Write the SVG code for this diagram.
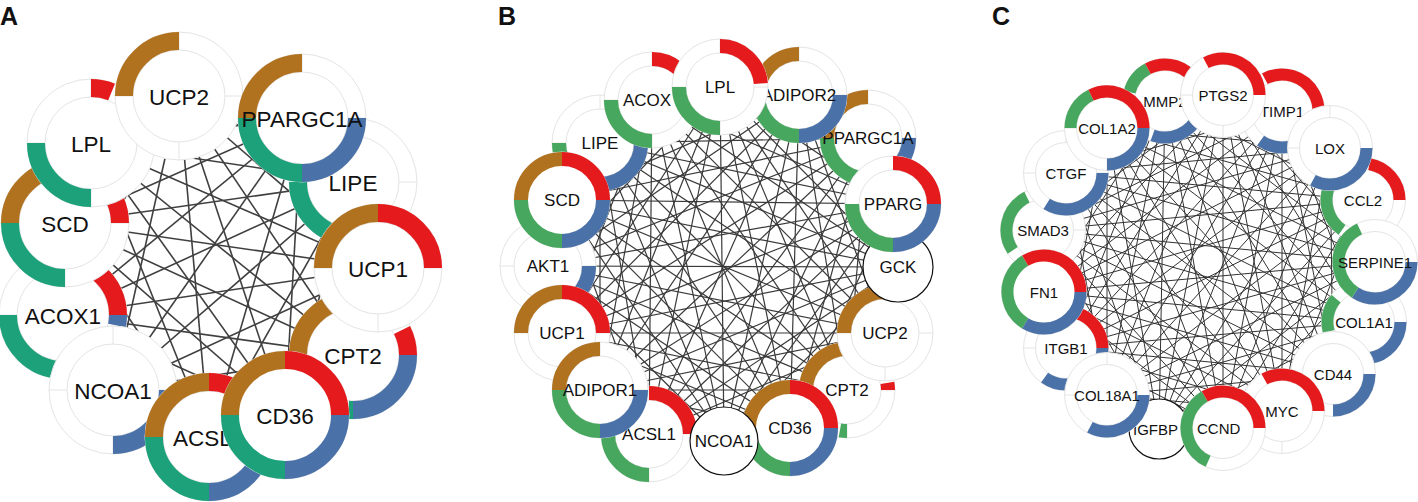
<svg xmlns="http://www.w3.org/2000/svg" width="1418" height="502" viewBox="0 0 1418 502">
<style>
.bg{fill:#fff}
.w{fill:#fff;stroke:#e4e4e4;stroke-width:1}
.i{fill:none;stroke:#e4e4e4;stroke-width:1}
.pl{fill:#fff;stroke:#111;stroke-width:1.2}
.a{fill:none;stroke-width:18}
.b{fill:none;stroke-width:14}
.c{fill:none;stroke-width:12}
.br{stroke:#B1721F}.rd{stroke:#E41A1C}.bl{stroke:#4A71A8}.ga{stroke:#1CA17A}.gn{stroke:#47A75E}
.eA path{stroke:#404040;stroke-width:1.6;fill:none}
.eB path{stroke:#3a3a3a;stroke-width:1.2;fill:none}
.eC path{stroke:#333;stroke-width:1;fill:none}
text{font-family:"Liberation Sans",Arial,sans-serif;fill:#111}
.tA{font-size:22.5px;text-anchor:middle}
.tB{font-size:17px;text-anchor:middle}
.tC{font-size:15px;text-anchor:middle}
.s{text-anchor:start}
.pn{font-size:25px;font-weight:bold}
</style>
<rect class="bg" width="1418" height="502"/>
<text class="pn" x="0" y="25">A</text>
<text class="pn" x="498" y="25">B</text>
<text class="pn" x="992" y="25">C</text>

<g id="edges-A" class="eA">
<path d="M179 96L353 182"/><path d="M179 96L378 268"/><path d="M179 96L353 355"/><path d="M179 96L285 415"/><path d="M179 96L209 437"/><path d="M179 96L113 390"/><path d="M179 96L63 315"/><path d="M179 96L65 223"/>
<path d="M302 118L378 268"/><path d="M302 118L353 355"/><path d="M302 118L285 415"/><path d="M302 118L209 437"/><path d="M302 118L113 390"/><path d="M302 118L63 315"/><path d="M302 118L65 223"/><path d="M302 118L91 143"/>
<path d="M353 182L353 355"/><path d="M353 182L285 415"/><path d="M353 182L209 437"/><path d="M353 182L113 390"/><path d="M353 182L63 315"/><path d="M353 182L65 223"/><path d="M353 182L91 143"/>
<path d="M378 268L285 415"/><path d="M378 268L209 437"/><path d="M378 268L113 390"/><path d="M378 268L63 315"/><path d="M378 268L65 223"/><path d="M378 268L91 143"/>
<path d="M353 355L209 437"/><path d="M353 355L113 390"/><path d="M353 355L63 315"/><path d="M353 355L65 223"/><path d="M353 355L91 143"/>
<path d="M285 415L113 390"/><path d="M285 415L63 315"/><path d="M285 415L65 223"/><path d="M285 415L91 143"/>
<path d="M209 437L63 315"/><path d="M209 437L65 223"/><path d="M209 437L91 143"/>
<path d="M113 390L65 223"/><path d="M113 390L91 143"/><path d="M63 315L91 143"/>
</g>

<g id="edges-B" class="eB">
<path d="M720 87L868 138"/><path d="M720 87L893 204"/><path d="M720 87L898 267"/><path d="M720 87L885 333"/><path d="M720 87L847 390"/><path d="M720 87L790 428"/><path d="M720 87L724 441"/><path d="M720 87L649 434"/><path d="M720 87L600 390"/><path d="M720 87L562 333"/><path d="M720 87L548 266"/><path d="M720 87L562 200"/><path d="M720 87L600 143"/>
<path d="M799 95L893 204"/><path d="M799 95L898 267"/><path d="M799 95L885 333"/><path d="M799 95L847 390"/><path d="M799 95L790 428"/><path d="M799 95L724 441"/><path d="M799 95L649 434"/><path d="M799 95L600 390"/><path d="M799 95L562 333"/><path d="M799 95L548 266"/><path d="M799 95L562 200"/><path d="M799 95L600 143"/><path d="M799 95L652 100"/>
<path d="M868 138L898 267"/><path d="M868 138L885 333"/><path d="M868 138L847 390"/><path d="M868 138L790 428"/><path d="M868 138L724 441"/><path d="M868 138L649 434"/><path d="M868 138L600 390"/><path d="M868 138L562 333"/><path d="M868 138L548 266"/><path d="M868 138L562 200"/><path d="M868 138L600 143"/><path d="M868 138L652 100"/>
<path d="M893 204L885 333"/><path d="M893 204L847 390"/><path d="M893 204L790 428"/><path d="M893 204L724 441"/><path d="M893 204L649 434"/><path d="M893 204L600 390"/><path d="M893 204L562 333"/><path d="M893 204L548 266"/><path d="M893 204L562 200"/><path d="M893 204L600 143"/><path d="M893 204L652 100"/>
<path d="M898 267L847 390"/><path d="M898 267L790 428"/><path d="M898 267L724 441"/><path d="M898 267L649 434"/><path d="M898 267L600 390"/><path d="M898 267L562 333"/><path d="M898 267L548 266"/><path d="M898 267L562 200"/><path d="M898 267L600 143"/><path d="M898 267L652 100"/>
<path d="M885 333L790 428"/><path d="M885 333L724 441"/><path d="M885 333L649 434"/><path d="M885 333L600 390"/><path d="M885 333L562 333"/><path d="M885 333L548 266"/><path d="M885 333L562 200"/><path d="M885 333L600 143"/><path d="M885 333L652 100"/>
<path d="M847 390L724 441"/><path d="M847 390L649 434"/><path d="M847 390L600 390"/><path d="M847 390L562 333"/><path d="M847 390L548 266"/><path d="M847 390L562 200"/><path d="M847 390L600 143"/><path d="M847 390L652 100"/>
<path d="M790 428L649 434"/><path d="M790 428L600 390"/><path d="M790 428L562 333"/><path d="M790 428L548 266"/><path d="M790 428L562 200"/><path d="M790 428L600 143"/><path d="M790 428L652 100"/>
<path d="M724 441L600 390"/><path d="M724 441L562 333"/><path d="M724 441L548 266"/><path d="M724 441L562 200"/><path d="M724 441L600 143"/><path d="M724 441L652 100"/>
<path d="M649 434L562 333"/><path d="M649 434L548 266"/><path d="M649 434L562 200"/><path d="M649 434L600 143"/><path d="M649 434L652 100"/>
<path d="M600 390L548 266"/><path d="M600 390L562 200"/><path d="M600 390L600 143"/><path d="M600 390L652 100"/>
<path d="M562 333L562 200"/><path d="M562 333L600 143"/><path d="M562 333L652 100"/>
<path d="M548 266L600 143"/><path d="M548 266L652 100"/><path d="M562 200L652 100"/>
</g>

<g id="edges-C" class="eC">
<path d="M1223 95L1330 148"/><path d="M1223 95L1363 200"/><path d="M1223 95L1375 262"/><path d="M1223 95L1364 322"/><path d="M1223 95L1333 374"/><path d="M1223 95L1282 411"/><path d="M1223 95L1223 428"/><path d="M1223 95L1159 429"/><path d="M1223 95L1107 395"/><path d="M1223 95L1066 348"/><path d="M1223 95L1044 292"/><path d="M1223 95L1043 230"/><path d="M1223 95L1066 173"/><path d="M1223 95L1107 128"/>
<path d="M1282 111L1363 200"/><path d="M1282 111L1375 262"/><path d="M1282 111L1364 322"/><path d="M1282 111L1333 374"/><path d="M1282 111L1282 411"/><path d="M1282 111L1223 428"/><path d="M1282 111L1159 429"/><path d="M1282 111L1107 395"/><path d="M1282 111L1066 348"/><path d="M1282 111L1044 292"/><path d="M1282 111L1043 230"/><path d="M1282 111L1066 173"/><path d="M1282 111L1107 128"/><path d="M1282 111L1165 101"/>
<path d="M1330 148L1375 262"/><path d="M1330 148L1364 322"/><path d="M1330 148L1333 374"/><path d="M1330 148L1282 411"/><path d="M1330 148L1223 428"/><path d="M1330 148L1159 429"/><path d="M1330 148L1107 395"/><path d="M1330 148L1066 348"/><path d="M1330 148L1044 292"/><path d="M1330 148L1043 230"/><path d="M1330 148L1066 173"/><path d="M1330 148L1107 128"/><path d="M1330 148L1165 101"/>
<path d="M1363 200L1364 322"/><path d="M1363 200L1333 374"/><path d="M1363 200L1282 411"/><path d="M1363 200L1223 428"/><path d="M1363 200L1159 429"/><path d="M1363 200L1107 395"/><path d="M1363 200L1066 348"/><path d="M1363 200L1044 292"/><path d="M1363 200L1043 230"/><path d="M1363 200L1066 173"/><path d="M1363 200L1107 128"/><path d="M1363 200L1165 101"/>
<path d="M1375 262L1333 374"/><path d="M1375 262L1282 411"/><path d="M1375 262L1223 428"/><path d="M1375 262L1159 429"/><path d="M1375 262L1107 395"/><path d="M1375 262L1066 348"/><path d="M1375 262L1044 292"/><path d="M1375 262L1043 230"/><path d="M1375 262L1066 173"/><path d="M1375 262L1107 128"/><path d="M1375 262L1165 101"/>
<path d="M1364 322L1282 411"/><path d="M1364 322L1223 428"/><path d="M1364 322L1159 429"/><path d="M1364 322L1107 395"/><path d="M1364 322L1066 348"/><path d="M1364 322L1044 292"/><path d="M1364 322L1043 230"/><path d="M1364 322L1066 173"/><path d="M1364 322L1107 128"/><path d="M1364 322L1165 101"/>
<path d="M1333 374L1223 428"/><path d="M1333 374L1159 429"/><path d="M1333 374L1107 395"/><path d="M1333 374L1066 348"/><path d="M1333 374L1044 292"/><path d="M1333 374L1043 230"/><path d="M1333 374L1066 173"/><path d="M1333 374L1107 128"/><path d="M1333 374L1165 101"/>
<path d="M1282 411L1159 429"/><path d="M1282 411L1107 395"/><path d="M1282 411L1066 348"/><path d="M1282 411L1044 292"/><path d="M1282 411L1043 230"/><path d="M1282 411L1066 173"/><path d="M1282 411L1107 128"/><path d="M1282 411L1165 101"/>
<path d="M1223 428L1107 395"/><path d="M1223 428L1066 348"/><path d="M1223 428L1044 292"/><path d="M1223 428L1043 230"/><path d="M1223 428L1066 173"/><path d="M1223 428L1107 128"/><path d="M1223 428L1165 101"/>
<path d="M1159 429L1066 348"/><path d="M1159 429L1044 292"/><path d="M1159 429L1043 230"/><path d="M1159 429L1066 173"/><path d="M1159 429L1107 128"/><path d="M1159 429L1165 101"/>
<path d="M1107 395L1044 292"/><path d="M1107 395L1043 230"/><path d="M1107 395L1066 173"/><path d="M1107 395L1107 128"/><path d="M1107 395L1165 101"/>
<path d="M1066 348L1043 230"/><path d="M1066 348L1066 173"/><path d="M1066 348L1107 128"/><path d="M1066 348L1165 101"/>
<path d="M1044 292L1066 173"/><path d="M1044 292L1107 128"/><path d="M1044 292L1165 101"/>
<path d="M1043 230L1107 128"/><path d="M1043 230L1165 101"/><path d="M1066 173L1165 101"/>
</g>

<!-- Panel A nodes -->
<g id="A-ACOX1"><circle class="w" cx="63" cy="315" r="64"/><circle class="i" cx="63" cy="315" r="46"/><path class="i" d="M63 251V269M109 315H127M63 361V379M-1 315H17"/>
<circle class="a rd" cx="63" cy="315" r="55" pathLength="360" stroke-dasharray="50 400" transform="rotate(-50 63 315)"/>
<circle class="a bl" cx="63" cy="315" r="55" pathLength="360" stroke-dasharray="11 400"/>
<circle class="a ga" cx="63" cy="315" r="55" pathLength="360" stroke-dasharray="90 400" transform="rotate(90 63 315)"/>
<text class="tA" x="63" y="324">ACOX1</text></g>
<g id="A-SCD"><circle class="w" cx="65" cy="223" r="64"/><circle class="i" cx="65" cy="223" r="46"/><path class="i" d="M65 159V177M111 223H129M65 269V287M1 223H19"/>
<circle class="a br" cx="65" cy="223" r="55" pathLength="360" stroke-dasharray="90 400" transform="rotate(180 65 223)"/>
<circle class="a rd" cx="65" cy="223" r="55" pathLength="360" stroke-dasharray="24 400" transform="rotate(-24 65 223)"/>
<circle class="a ga" cx="65" cy="223" r="55" pathLength="360" stroke-dasharray="90 400" transform="rotate(90 65 223)"/>
<text class="tA" x="65" y="232">SCD</text></g>
<g id="A-LPL"><circle class="w" cx="91" cy="143" r="64"/><circle class="i" cx="91" cy="143" r="46"/><path class="i" d="M91 79V97M137 143H155M91 189V207M27 143H45"/>
<circle class="a rd" cx="91" cy="143" r="55" pathLength="360" stroke-dasharray="22 400" transform="rotate(-90 91 143)"/>
<circle class="a ga" cx="91" cy="143" r="55" pathLength="360" stroke-dasharray="90 400" transform="rotate(90 91 143)"/>
<text class="tA" x="91" y="152">LPL</text></g>
<g id="A-UCP2"><circle class="w" cx="179" cy="96" r="64"/><circle class="i" cx="179" cy="96" r="46"/><path class="i" d="M179 32V50M225 96H243M179 142V160M115 96H133"/>
<circle class="a br" cx="179" cy="96" r="55" pathLength="360" stroke-dasharray="90 400" transform="rotate(180 179 96)"/>
<text class="tA" x="179" y="105">UCP2</text></g>
<g id="A-LIPE"><circle class="w" cx="353" cy="182" r="64"/><circle class="i" cx="353" cy="182" r="46"/><path class="i" d="M353 118V136M399 182H417M353 228V246M289 182H307"/>
<circle class="a ga" cx="353" cy="182" r="55" pathLength="360" stroke-dasharray="90 400" transform="rotate(90 353 182)"/>
<text class="tA" x="353" y="191">LIPE</text></g>
<g id="A-PPARGC1A"><circle class="w" cx="302" cy="118" r="64"/><circle class="i" cx="302" cy="118" r="46"/><path class="i" d="M302 54V72M348 118H366M302 164V182M238 118H256"/>
<circle class="a br" cx="302" cy="118" r="55" pathLength="360" stroke-dasharray="90 400" transform="rotate(180 302 118)"/>
<circle class="a bl" cx="302" cy="118" r="55" pathLength="360" stroke-dasharray="90 400"/>
<circle class="a ga" cx="302" cy="118" r="55" pathLength="360" stroke-dasharray="90 400" transform="rotate(90 302 118)"/>
<text class="tA" x="302" y="127">PPARGC1A</text></g>
<g id="A-CPT2"><circle class="w" cx="353" cy="355" r="64"/><circle class="i" cx="353" cy="355" r="46"/><path class="i" d="M353 291V309M399 355H417M353 401V419M289 355H307"/>
<circle class="a br" cx="353" cy="355" r="55" pathLength="360" stroke-dasharray="90 400" transform="rotate(180 353 355)"/>
<circle class="a rd" cx="353" cy="355" r="55" pathLength="360" stroke-dasharray="27 400" transform="rotate(-27 353 355)"/>
<circle class="a bl" cx="353" cy="355" r="55" pathLength="360" stroke-dasharray="90 400"/>
<circle class="a ga" cx="353" cy="355" r="55" pathLength="360" stroke-dasharray="5 400" transform="rotate(90 353 355)"/>
<text class="tA" x="353" y="364">CPT2</text></g>
<g id="A-UCP1"><circle class="w" cx="378" cy="268" r="64"/><circle class="i" cx="378" cy="268" r="46"/><path class="i" d="M378 204V222M424 268H442M378 314V332M314 268H332"/>
<circle class="a br" cx="378" cy="268" r="55" pathLength="360" stroke-dasharray="90 400" transform="rotate(180 378 268)"/>
<circle class="a rd" cx="378" cy="268" r="55" pathLength="360" stroke-dasharray="90 400" transform="rotate(-90 378 268)"/>
<text class="tA" x="378" y="277">UCP1</text></g>
<g id="A-NCOA1"><circle class="w" cx="113" cy="390" r="64"/><circle class="i" cx="113" cy="390" r="46"/><path class="i" d="M113 326V344M159 390H177M113 436V454M49 390H67"/>
<circle class="a bl" cx="113" cy="390" r="55" pathLength="360" stroke-dasharray="90 400"/>
<text class="tA" x="113" y="399">NCOA1</text></g>
<g id="A-ACSL1"><circle class="w" cx="209" cy="437" r="64"/><circle class="i" cx="209" cy="437" r="46"/>
<circle class="a br" cx="209" cy="437" r="55" pathLength="360" stroke-dasharray="90 400" transform="rotate(180 209 437)"/>
<circle class="a rd" cx="209" cy="437" r="55" pathLength="360" stroke-dasharray="90 400" transform="rotate(-90 209 437)"/>
<circle class="a bl" cx="209" cy="437" r="55" pathLength="360" stroke-dasharray="90 400"/>
<circle class="a ga" cx="209" cy="437" r="55" pathLength="360" stroke-dasharray="90 400" transform="rotate(90 209 437)"/>
<text class="tA s" x="173" y="446">ACSL</text></g>
<g id="A-CD36"><circle class="w" cx="285" cy="415" r="64"/>
<circle class="a br" cx="285" cy="415" r="55" pathLength="360" stroke-dasharray="90 400" transform="rotate(180 285 415)"/>
<circle class="a rd" cx="285" cy="415" r="55" pathLength="360" stroke-dasharray="90 400" transform="rotate(-90 285 415)"/>
<circle class="a bl" cx="285" cy="415" r="55" pathLength="360" stroke-dasharray="90 400"/>
<circle class="a ga" cx="285" cy="415" r="55" pathLength="360" stroke-dasharray="90 400" transform="rotate(90 285 415)"/>
<text class="tA" x="285" y="424">CD36</text></g>

<!-- Panel B nodes -->
<g id="B-LIPE"><circle class="w" cx="600" cy="143" r="48"/><circle class="i" cx="600" cy="143" r="34"/><path class="i" d="M600 95V109M634 143H648M600 177V191M552 143H566"/>
<circle class="b bl" cx="600" cy="143" r="41" pathLength="360" stroke-dasharray="90 400"/>
<circle class="b gn" cx="600" cy="143" r="41" pathLength="360" stroke-dasharray="90 400" transform="rotate(90 600 143)"/>
<text class="tB" x="600" y="149">LIPE</text></g>
<g id="B-AKT1"><circle class="w" cx="548" cy="266" r="48"/><circle class="i" cx="548" cy="266" r="34"/><path class="i" d="M548 218V232M582 266H596M548 300V314M500 266H514"/>
<circle class="b bl" cx="548" cy="266" r="41" pathLength="360" stroke-dasharray="90 400"/>
<text class="tB" x="548" y="272">AKT1</text></g>
<g id="B-ACOX"><circle class="w" cx="652" cy="100" r="48"/><circle class="i" cx="652" cy="100" r="34"/><path class="i" d="M652 52V66M686 100H700M652 134V148M604 100H618"/>
<circle class="b rd" cx="652" cy="100" r="41" pathLength="360" stroke-dasharray="40 400" transform="rotate(-90 652 100)"/>
<circle class="b gn" cx="652" cy="100" r="41" pathLength="360" stroke-dasharray="90 400" transform="rotate(90 652 100)"/>
<text class="tB s" x="623" y="106">ACOX</text></g>
<g id="B-SCD"><circle class="w" cx="562" cy="200" r="48"/>
<circle class="b br" cx="562" cy="200" r="41" pathLength="360" stroke-dasharray="90 400" transform="rotate(180 562 200)"/>
<circle class="b rd" cx="562" cy="200" r="41" pathLength="360" stroke-dasharray="90 400" transform="rotate(-90 562 200)"/>
<circle class="b bl" cx="562" cy="200" r="41" pathLength="360" stroke-dasharray="90 400"/>
<circle class="b gn" cx="562" cy="200" r="41" pathLength="360" stroke-dasharray="90 400" transform="rotate(90 562 200)"/>
<text class="tB" x="562" y="206">SCD</text></g>
<g id="B-UCP1"><circle class="w" cx="562" cy="333" r="48"/><circle class="i" cx="562" cy="333" r="34"/><path class="i" d="M562 285V299M596 333H610M562 367V381M514 333H528"/>
<circle class="b br" cx="562" cy="333" r="41" pathLength="360" stroke-dasharray="90 400" transform="rotate(180 562 333)"/>
<circle class="b rd" cx="562" cy="333" r="41" pathLength="360" stroke-dasharray="90 400" transform="rotate(-90 562 333)"/>
<text class="tB" x="562" y="339">UCP1</text></g>
<g id="B-ACSL1"><circle class="w" cx="649" cy="434" r="48"/><circle class="i" cx="649" cy="434" r="34"/><path class="i" d="M649 386V400M683 434H697M649 468V482M601 434H615"/>
<circle class="b rd" cx="649" cy="434" r="41" pathLength="360" stroke-dasharray="90 400" transform="rotate(-90 649 434)"/>
<circle class="b gn" cx="649" cy="434" r="41" pathLength="360" stroke-dasharray="90 400" transform="rotate(90 649 434)"/>
<text class="tB" x="649" y="440">ACSL1</text></g>
<g id="B-ADIPOR1"><circle class="w" cx="600" cy="390" r="48"/><circle class="i" cx="600" cy="390" r="34"/><path class="i" d="M600 342V356M634 390H648M600 424V438M552 390H566"/>
<circle class="b br" cx="600" cy="390" r="41" pathLength="360" stroke-dasharray="90 400" transform="rotate(180 600 390)"/>
<circle class="b bl" cx="600" cy="390" r="41" pathLength="360" stroke-dasharray="90 400"/>
<circle class="b gn" cx="600" cy="390" r="41" pathLength="360" stroke-dasharray="90 400" transform="rotate(90 600 390)"/>
<text class="tB" x="600" y="396">ADIPOR1</text></g>
<g id="B-CPT2"><circle class="w" cx="847" cy="390" r="48"/><circle class="i" cx="847" cy="390" r="34"/><path class="i" d="M847 342V356M881 390H895M847 424V438M799 390H813"/>
<circle class="b br" cx="847" cy="390" r="41" pathLength="360" stroke-dasharray="90 400" transform="rotate(180 847 390)"/>
<circle class="b rd" cx="847" cy="390" r="41" pathLength="360" stroke-dasharray="10 400" transform="rotate(-10 847 390)"/>
<circle class="b gn" cx="847" cy="390" r="41" pathLength="360" stroke-dasharray="10 400" transform="rotate(90 847 390)"/>
<text class="tB" x="847" y="396">CPT2</text></g>
<g id="B-CD36"><circle class="w" cx="790" cy="428" r="48"/>
<circle class="b br" cx="790" cy="428" r="41" pathLength="360" stroke-dasharray="90 400" transform="rotate(180 790 428)"/>
<circle class="b rd" cx="790" cy="428" r="41" pathLength="360" stroke-dasharray="90 400" transform="rotate(-90 790 428)"/>
<circle class="b bl" cx="790" cy="428" r="41" pathLength="360" stroke-dasharray="90 400"/>
<circle class="b gn" cx="790" cy="428" r="41" pathLength="360" stroke-dasharray="90 400" transform="rotate(90 790 428)"/>
<text class="tB" x="790" y="434">CD36</text></g>
<g id="B-NCOA1"><circle class="pl" cx="724" cy="441" r="34"/><text class="tB" x="724" y="447">NCOA1</text></g>
<g id="B-UCP2"><circle class="w" cx="885" cy="333" r="48"/><circle class="i" cx="885" cy="333" r="34"/><path class="i" d="M885 285V299M919 333H933M885 367V381M837 333H851"/>
<circle class="b br" cx="885" cy="333" r="41" pathLength="360" stroke-dasharray="90 400" transform="rotate(180 885 333)"/>
<text class="tB" x="885" y="339">UCP2</text></g>
<g id="B-GCK"><circle class="pl" cx="898" cy="267" r="35"/><text class="tB" x="898" y="273">GCK</text></g>
<g id="B-PPARGC1A"><circle class="w" cx="868" cy="138" r="48"/><circle class="i" cx="868" cy="138" r="34"/><path class="i" d="M868 90V104M902 138H916M868 172V186M820 138H834"/>
<circle class="b br" cx="868" cy="138" r="41" pathLength="360" stroke-dasharray="90 400" transform="rotate(180 868 138)"/>
<circle class="b bl" cx="868" cy="138" r="41" pathLength="360" stroke-dasharray="90 400"/>
<circle class="b gn" cx="868" cy="138" r="41" pathLength="360" stroke-dasharray="90 400" transform="rotate(90 868 138)"/>
<text class="tB" x="868" y="144">PPARGC1A</text></g>
<g id="B-ADIPOR2"><circle class="w" cx="799" cy="95" r="48"/><circle class="i" cx="799" cy="95" r="34"/><path class="i" d="M799 47V61M833 95H847M799 129V143M751 95H765"/>
<circle class="b br" cx="799" cy="95" r="41" pathLength="360" stroke-dasharray="90 400" transform="rotate(180 799 95)"/>
<circle class="b bl" cx="799" cy="95" r="41" pathLength="360" stroke-dasharray="90 400"/>
<circle class="b gn" cx="799" cy="95" r="41" pathLength="360" stroke-dasharray="90 400" transform="rotate(90 799 95)"/>
<text class="tB" x="799" y="101">ADIPOR2</text></g>
<g id="B-PPARG"><circle class="w" cx="893" cy="204" r="48"/><circle class="i" cx="893" cy="204" r="34"/>
<circle class="b rd" cx="893" cy="204" r="41" pathLength="360" stroke-dasharray="90 400" transform="rotate(-90 893 204)"/>
<circle class="b bl" cx="893" cy="204" r="41" pathLength="360" stroke-dasharray="90 400"/>
<circle class="b gn" cx="893" cy="204" r="41" pathLength="360" stroke-dasharray="90 400" transform="rotate(90 893 204)"/>
<text class="tB" x="893" y="210">PPARG</text></g>
<g id="B-LPL"><circle class="w" cx="720" cy="87" r="48"/><circle class="i" cx="720" cy="87" r="34"/><path class="i" d="M720 39V53M754 87H768M720 121V135M672 87H686"/>
<circle class="b rd" cx="720" cy="87" r="41" pathLength="360" stroke-dasharray="85 400" transform="rotate(-90 720 87)"/>
<circle class="b gn" cx="720" cy="87" r="41" pathLength="360" stroke-dasharray="90 400" transform="rotate(90 720 87)"/>
<text class="tB" x="720" y="93">LPL</text></g>

<!-- Panel C nodes -->
<g id="C-SMAD3"><circle class="w" cx="1043" cy="230" r="42.5"/><circle class="i" cx="1043" cy="230" r="30.5"/><path class="i" d="M1043 187.5V199.5M1073.5 230H1085.5M1043 260.5V272.5M1000.5 230H1012.5"/>
<circle class="c gn" cx="1043" cy="230" r="36.5" pathLength="360" stroke-dasharray="98 400" transform="rotate(146 1043 230)"/>
<text class="tC" x="1043" y="235.5">SMAD3</text></g>
<g id="C-ITGB1"><circle class="w" cx="1066" cy="348" r="42.5"/><circle class="i" cx="1066" cy="348" r="30.5"/><path class="i" d="M1066 305.5V317.5M1096.5 348H1108.5M1066 378.5V390.5M1023.5 348H1035.5"/>
<circle class="c rd" cx="1066" cy="348" r="36.5" pathLength="360" stroke-dasharray="73 400" transform="rotate(-73 1066 348)"/>
<circle class="c bl" cx="1066" cy="348" r="36.5" pathLength="360" stroke-dasharray="126 400"/>
<text class="tC" x="1066" y="353.5">ITGB1</text></g>
<g id="C-FN1"><circle class="w" cx="1044" cy="292" r="42.5"/>
<circle class="c gn" cx="1044" cy="292" r="36.5" pathLength="360" stroke-dasharray="118 400" transform="rotate(121 1044 292)"/>
<circle class="c rd" cx="1044" cy="292" r="36.5" pathLength="360" stroke-dasharray="121 400" transform="rotate(239 1044 292)"/>
<circle class="c bl" cx="1044" cy="292" r="36.5" pathLength="360" stroke-dasharray="121 400"/>
<text class="tC" x="1044" y="297.5">FN1</text></g>
<g id="C-CTGF"><circle class="w" cx="1066" cy="173" r="42.5"/><circle class="i" cx="1066" cy="173" r="30.5"/><path class="i" d="M1066 130.5V142.5M1096.5 173H1108.5M1066 203.5V215.5M1023.5 173H1035.5"/>
<circle class="c bl" cx="1066" cy="173" r="36.5" pathLength="360" stroke-dasharray="122 400"/>
<text class="tC" x="1066" y="178.5">CTGF</text></g>
<g id="C-MMP2"><circle class="w" cx="1165" cy="101" r="42.5"/><circle class="i" cx="1165" cy="101" r="30.5"/>
<circle class="c gn" cx="1165" cy="101" r="36.5" pathLength="360" stroke-dasharray="48 400" transform="rotate(194 1165 101)"/>
<circle class="c rd" cx="1165" cy="101" r="36.5" pathLength="360" stroke-dasharray="118 400" transform="rotate(242 1165 101)"/>
<circle class="c bl" cx="1165" cy="101" r="36.5" pathLength="360" stroke-dasharray="110 400"/>
<text class="tC" x="1165" y="106.5">MMP2</text></g>
<g id="C-COL1A2"><circle class="w" cx="1107" cy="128" r="42.5"/><circle class="i" cx="1107" cy="128" r="30.5"/><path class="i" d="M1107 158.5V170.5M1064.5 128H1076.5"/>
<circle class="c gn" cx="1107" cy="128" r="36.5" pathLength="360" stroke-dasharray="64 400" transform="rotate(180 1107 128)"/>
<circle class="c rd" cx="1107" cy="128" r="36.5" pathLength="360" stroke-dasharray="116 400" transform="rotate(244 1107 128)"/>
<circle class="c bl" cx="1107" cy="128" r="36.5" pathLength="360" stroke-dasharray="90 400"/>
<text class="tC" x="1107" y="133.5">COL1A2</text></g>
<g id="C-TIMP1"><circle class="w" cx="1282" cy="111" r="42.5"/><circle class="i" cx="1282" cy="111" r="30.5"/><path class="i" d="M1239.5 111H1251.5"/>
<circle class="c rd" cx="1282" cy="111" r="36.5" pathLength="360" stroke-dasharray="118 400" transform="rotate(242 1282 111)"/>
<circle class="c bl" cx="1282" cy="111" r="36.5" pathLength="360" stroke-dasharray="126 400"/>
<text class="tC" x="1282" y="116.5">TIMP1</text></g>
<g id="C-PTGS2"><circle class="w" cx="1223" cy="95" r="42.5"/><circle class="i" cx="1223" cy="95" r="30.5"/><path class="i" d="M1223 125.5V137.5M1180.5 95H1192.5"/>
<circle class="c rd" cx="1223" cy="95" r="36.5" pathLength="360" stroke-dasharray="118 400" transform="rotate(242 1223 95)"/>
<text class="tC" x="1223" y="100.5">PTGS2</text></g>
<g id="C-CCL2"><circle class="w" cx="1363" cy="200" r="42.5"/><circle class="i" cx="1363" cy="200" r="30.5"/><path class="i" d="M1363 230.5V242.5"/>
<circle class="c rd" cx="1363" cy="200" r="36.5" pathLength="360" stroke-dasharray="80 400" transform="rotate(-80 1363 200)"/>
<circle class="c gn" cx="1363" cy="200" r="36.5" pathLength="360" stroke-dasharray="75 400" transform="rotate(125 1363 200)"/>
<text class="tC" x="1363" y="205.5">CCL2</text></g>
<g id="C-LOX"><circle class="w" cx="1330" cy="148" r="42.5"/><circle class="i" cx="1330" cy="148" r="30.5"/><path class="i" d="M1330 105.5V117.5M1287.5 148H1299.5"/>
<circle class="c bl" cx="1330" cy="148" r="36.5" pathLength="360" stroke-dasharray="118 400"/>
<text class="tC" x="1330" y="153.5">LOX</text></g>
<g id="C-COL1A1"><circle class="w" cx="1364" cy="322" r="42.5"/><circle class="i" cx="1364" cy="322" r="30.5"/>
<circle class="c gn" cx="1364" cy="322" r="36.5" pathLength="360" stroke-dasharray="55 400" transform="rotate(165 1364 322)"/>
<circle class="c bl" cx="1364" cy="322" r="36.5" pathLength="360" stroke-dasharray="82 400"/>
<text class="tC" x="1364" y="327.5">COL1A1</text></g>
<g id="C-SERPINE1"><circle class="w" cx="1375" cy="262" r="42.5"/><circle class="i" cx="1375" cy="262" r="30.5"/>
<circle class="c bl" cx="1375" cy="262" r="36.5" pathLength="360" stroke-dasharray="123 400"/>
<circle class="c gn" cx="1375" cy="262" r="36.5" pathLength="360" stroke-dasharray="122 400" transform="rotate(123 1375 262)"/>
<text class="tC" x="1375" y="267.5">SERPINE1</text></g>
<g id="C-CD44"><circle class="w" cx="1333" cy="374" r="42.5"/><circle class="i" cx="1333" cy="374" r="30.5"/>
<circle class="c bl" cx="1333" cy="374" r="36.5" pathLength="360" stroke-dasharray="90 400"/>
<text class="tC" x="1333" y="379.5">CD44</text></g>
<g id="C-MYC"><circle class="w" cx="1282" cy="411" r="42.5"/><circle class="i" cx="1282" cy="411" r="30.5"/><path class="i" d="M1282 441.5V453.5"/>
<circle class="c rd" cx="1282" cy="411" r="36.5" pathLength="360" stroke-dasharray="119 400" transform="rotate(241 1282 411)"/>
<text class="tC" x="1282" y="416.5">MYC</text></g>
<g id="C-IGFBP"><circle class="pl" cx="1159" cy="429" r="30"/><text class="tC s" x="1133" y="434.5">IGFBP</text></g>
<g id="C-CCND"><circle class="w" cx="1223" cy="428" r="42.5"/><circle class="i" cx="1223" cy="428" r="30.5"/>
<circle class="c gn" cx="1223" cy="428" r="36.5" pathLength="360" stroke-dasharray="126 400" transform="rotate(114 1223 428)"/>
<circle class="c rd" cx="1223" cy="428" r="36.5" pathLength="360" stroke-dasharray="120 400" transform="rotate(240 1223 428)"/>
<text class="tC s" x="1197" y="433.5">CCND</text></g>
<g id="C-COL18A1"><circle class="w" cx="1107" cy="395" r="42.5"/><circle class="i" cx="1107" cy="395" r="30.5"/><path class="i" d="M1064.5 395H1076.5M1107 352.5V364.5"/>
<circle class="c bl" cx="1107" cy="395" r="36.5" pathLength="360" stroke-dasharray="118 400"/>
<text class="tC" x="1107" y="400.5">COL18A1</text></g>
</svg>
